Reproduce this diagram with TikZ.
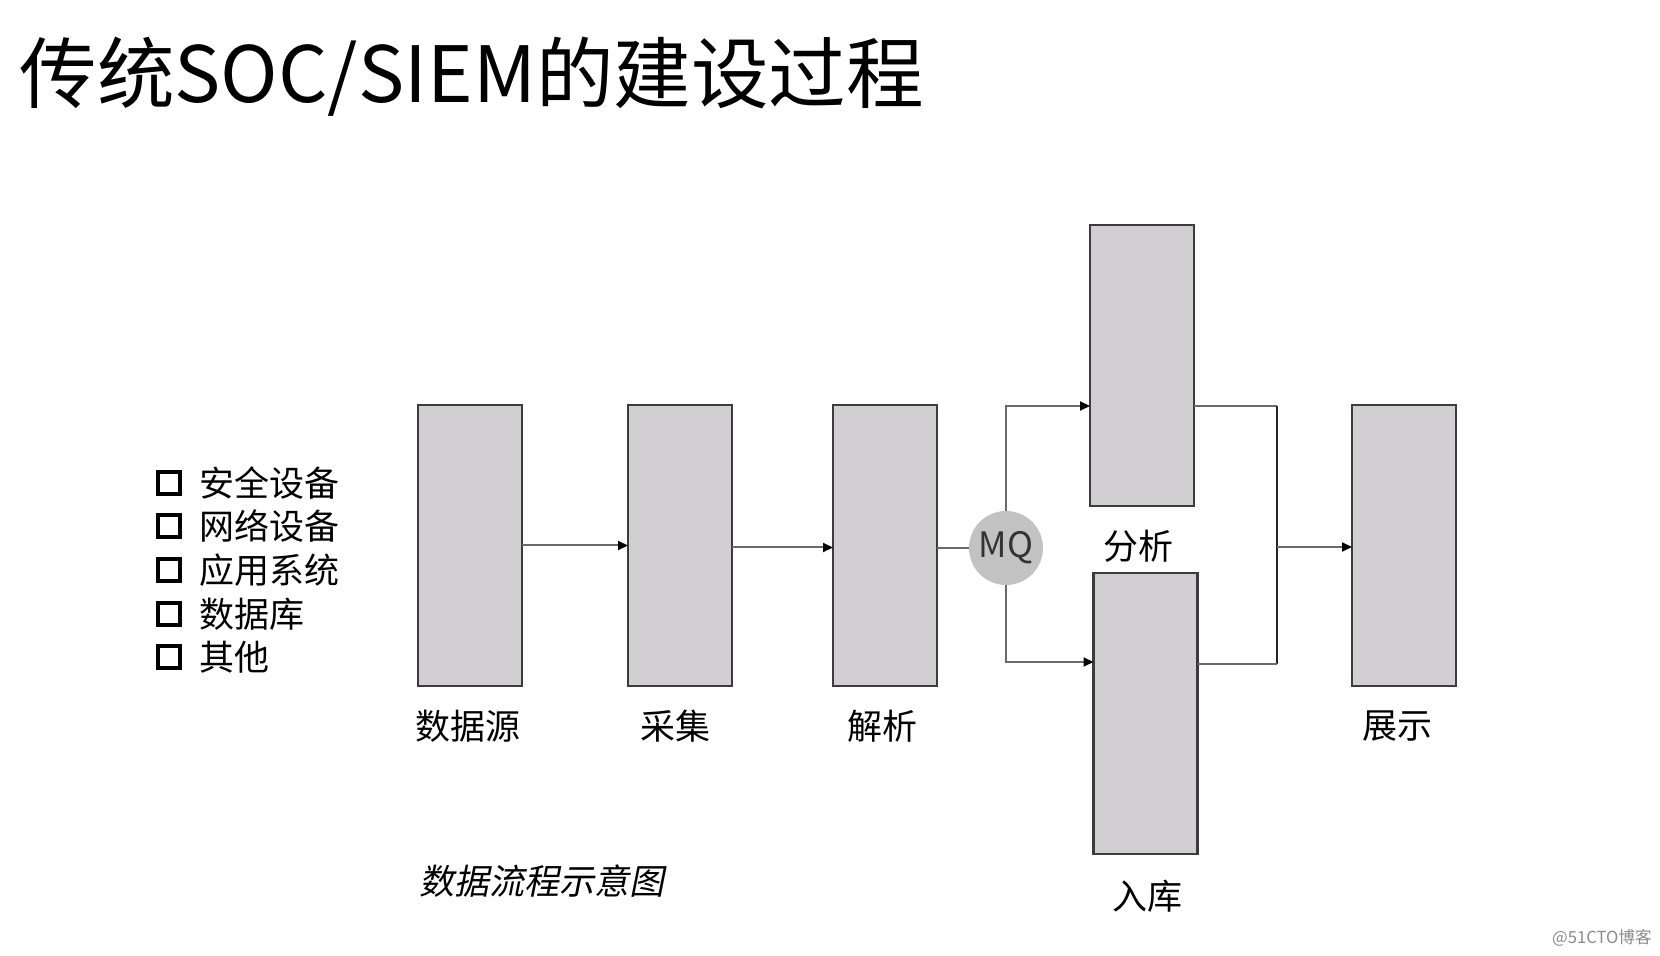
\documentclass[tikz,border=0pt]{standalone}
\usepackage{fontspec}
\setmainfont{Noto Sans CJK SC}
\newfontfamily\cjkit[FakeSlant=0.2]{Noto Sans CJK SC}
\usetikzlibrary{arrows.meta}
\definecolor{boxfill}{HTML}{D1CFD1}
\definecolor{boxline}{HTML}{3C3C3C}
\definecolor{connc}{HTML}{6A6A6A}
\definecolor{mqfill}{HTML}{C2C2C2}
\definecolor{wmark}{HTML}{8A8A8A}
\begin{document}
\begin{tikzpicture}[x=0.5pt,y=-0.5pt,
  stagebox/.style={draw=boxline, line width=1.2pt, fill=boxfill, minimum width=52pt, minimum height=140.5pt, inner sep=0pt, outer sep=0pt},
  mqnode/.style={circle, fill=mqfill, minimum size=37pt, inner sep=0pt, outer sep=0pt, text=black!80, font=\fontsize{17.5pt}{19pt}\selectfont},
  conn/.style={draw=connc, line width=1pt},
  arr/.style={conn, -{Triangle[length=5pt,width=4.5pt,color=black]}},
  lbl/.style={inner sep=0pt, font=\fontsize{17.5pt}{20pt}\selectfont},
  cbox/.style={draw=black, line width=1.8pt, minimum size=11pt, inner sep=0pt}
]
\useasboundingbox (0,0) rectangle (1660,956);

% title
\node[anchor=base west, inner sep=0pt, font=\fontsize{38.8pt}{42pt}\selectfont] (title) at (19,103) {传统SOC/SIEM的建设过程};

% list
\foreach \i/\t/\yy in {1/安全设备/483, 2/网络设备/526, 3/应用系统/570, 4/数据库/614, 5/其他/657}{
  \node[cbox] (cb\i) at (169,\yy) {};
  \node[lbl, anchor=west] (it\i) at (199,\yy) {\t};
}

% stage boxes
\node[stagebox] (src) at (470,545.5) {};
\node[stagebox] (col) at (680,545.5) {};
\node[stagebox] (par) at (885,545.5) {};
\node[stagebox] (ana) at (1142,365.5) {};
\node[stagebox] (sto) at (1145.5,713.5) {};
\node[stagebox] (show) at (1404,545.5) {};

% labels
\node[lbl] (lsrc) at (468,726) {数据源};
\node[lbl] (lcol) at (675,726) {采集};
\node[lbl] (lpar) at (882,726) {解析};
\node[lbl] (lshow) at (1397,726) {展示};
\node[lbl] (lana) at (1138,546) {分析};
\node[lbl] (lsto) at (1147,896) {入库};

% MQ
\node[mqnode] (mq) at (1006,548) {MQ};

% connectors
\draw[arr] (src.east) -- (col.west);
\draw[arr] ([yshift=-1pt]col.east) -- ([yshift=-1pt]par.west);
\draw[conn] (mq.west -| par.east) -- (mq.west);

\path (ana.west) ++(0,40.5) coordinate (anaIn);
\path (sto.west) ++(0,-51.5) coordinate (stoIn);
\path (ana.east) ++(0,40.5) coordinate (anaOut);
\path (sto.east) ++(0,-49.5) coordinate (stoOut);
\coordinate (jt) at (1277,406);
\coordinate (jb) at (1277,664);
\coordinate (jm) at (1277,547);

\draw[arr] (mq.north) |- (anaIn);
\draw[arr] (mq.south) |- (stoIn);
\draw[conn] (anaOut) -- (jt);
\draw[draw=black!85, line width=1pt] (jt) -- (jb);
\draw[conn] (jb) -- (stoOut);
\draw[arr] (jm) -- (show.west |- jm);

% caption
\node[inner sep=0pt, font=\fontsize{17.5pt}{20pt}\cjkit] (cap) at (542,881) {数据流程示意图};

% watermark
\node[anchor=east, inner sep=0pt, text=wmark, font=\fontsize{8.3pt}{10pt}\selectfont] (wm) at (1652,938) {@51CTO博客};
\end{tikzpicture}
\end{document}
